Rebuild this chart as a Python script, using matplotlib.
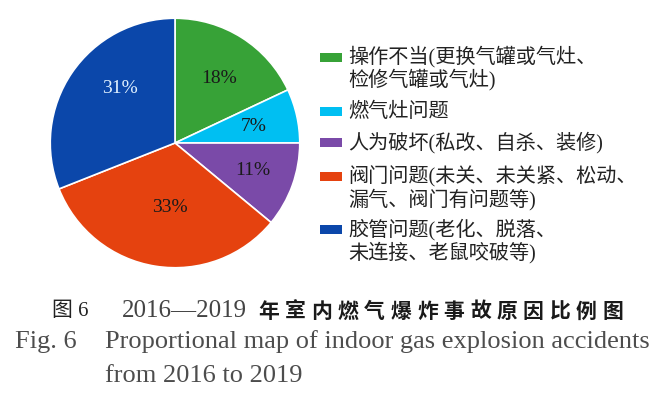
import matplotlib
matplotlib.use("Agg")
import numpy as np
import matplotlib.pyplot as plt
from matplotlib.patches import Rectangle

categories = [
    "操作不当(更换气罐或气灶、\n检修气罐或气灶)",
    "燃气灶问题",
    "人为破坏(私改、自杀、装修)",
    "阀门问题(未关、未关紧、松动、\n漏气、阀门有问题等)",
    "胶管问题(老化、脱落、\n未连接、老鼠咬破等)",
]
values = [18, 7, 11, 33, 31]
colors = ["#37a237", "#00bff2", "#7a4aa8", "#e5420f", "#0b47aa"]
pct_colors = ["#1a1a1a", "#1a1a1a", "#1a1a1a", "#1a1a1a", "#dff0ff"]
# label placement (radial fraction, angular nudge in degrees)
label_dist = [0.63, 0.64, 0.66, 0.52, 0.62]
label_nudge = [-2, -1, 0, 4.5, -10.5]

caption_cn_prefix = "图 6"
caption_years = "2016—2019"
caption_cn = "年室内燃气爆炸事故原因比例图"
caption_en_label = "Fig. 6"
caption_en_1 = "Proportional map of indoor gas explosion accidents"
caption_en_2 = "from 2016 to 2019"

W, H = 669, 396
fig = plt.figure(figsize=(W / 100, H / 100), dpi=100)
fig.patch.set_facecolor("white")

def fx(px):
    return px / W

def fy(py):
    return 1 - py / H

cx, cy, r = 175, 143, 126
ax = fig.add_axes([fx(cx - r), fy(cy + r), 2 * r / W, 2 * r / H])
wedges, texts, autotexts = ax.pie(
    values, colors=colors, startangle=90, counterclock=False,
    autopct=lambda p: f"{p:.0f}%", pctdistance=0.62,
    wedgeprops=dict(edgecolor="white", linewidth=1.2),
    textprops=dict(family="Liberation Serif", fontsize=14),
)
for t, c, w, d, n in zip(autotexts, pct_colors, wedges, label_dist, label_nudge):
    t.set_color(c)
    mid = np.deg2rad((w.theta1 + w.theta2) / 2 + n)
    t.set_position((d * np.cos(mid), d * np.sin(mid)))
ax.set_xlim(-1.01, 1.01)
ax.set_ylim(-1.01, 1.01)
ax.set_aspect("equal")
ax.axis("off")

cjk = ["Liberation Serif", "Noto Sans CJK SC"]
row_tops = [57, 112, 143, 177, 230]
line_gap = 23
for i, (lab, w) in enumerate(zip(categories, wedges)):
    yc = row_tops[i]
    fig.patches.append(Rectangle((fx(320), fy(yc + 4.5)), 22 / W, 9 / H,
                                 transform=fig.transFigure,
                                 facecolor=w.get_facecolor(), edgecolor="none"))
    for j, line in enumerate(lab.split("\n")):
        fig.text(fx(348), fy(yc + j * line_gap), line, family=cjk, fontsize=14.5,
                 color="#222222", va="center", ha="left")

# Chinese caption
cap_y = 311
fig.text(fx(52), fy(cap_y), caption_cn_prefix, family=cjk, fontsize=15,
         color="#222222", va="center", ha="left")
fig.text(fx(122), fy(cap_y), caption_years, family="Liberation Serif", fontsize=18,
         color="#444444", va="center", ha="left")
pitch = 26.5
for k, ch in enumerate(caption_cn):
    fig.text(fx(258 + k * pitch), fy(cap_y), ch, family="Noto Sans CJK SC",
             fontweight="bold", fontsize=15, color="#1a1a1a", va="center", ha="left")

# English caption
fig.text(fx(15), fy(348), caption_en_label, family="Liberation Serif", fontsize=19,
         color="#4d4d4d", va="baseline", ha="left")
fig.text(fx(105), fy(348), caption_en_1, family="Liberation Serif", fontsize=19,
         color="#4d4d4d", va="baseline", ha="left")
fig.text(fx(105), fy(382), caption_en_2, family="Liberation Serif", fontsize=19,
         color="#4d4d4d", va="baseline", ha="left")

fig.savefig("out.png", dpi=100, facecolor="white")
